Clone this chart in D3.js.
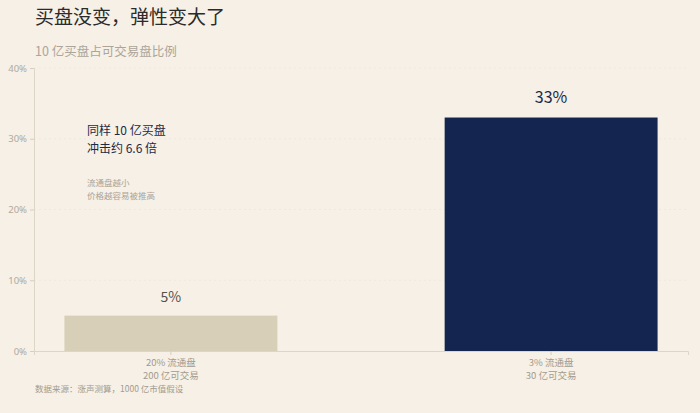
<!DOCTYPE html>
<html>
<head>
<meta charset="utf-8">
<script src="https://cdn.jsdelivr.net/npm/d3@7"></script>
<style>
  html, body { margin: 0; padding: 0; background: #f6f0e6; }
  svg { display: block; font-family: "Noto Sans CJK SC", "Noto Sans", sans-serif; }
</style>
</head>
<body>
<div id="chart"></div>
<script>
const categories = ['20% 流通盘|200 亿可交易', '3% 流通盘|30 亿可交易'];
const values = [5, 33];
const barColors = ['#d8cfb8', '#14264f'];
const yTicks = [0, 10, 20, 30, 40];

const width = 700, height = 413;
const margin = {top: 68, right: 12, bottom: 62, left: 34};

const svg = d3.select('#chart').append('svg')
    .attr('width', width)
    .attr('height', height);

svg.append('rect').attr('width', width).attr('height', height).attr('fill', '#f6f0e6');

const x = d3.scaleBand()
    .domain(categories)
    .range([margin.left, width - margin.right])
    .paddingInner(0.44)
    .paddingOuter(0.08);

const y = d3.scaleLinear()
    .domain([0, 40])
    .range([height - margin.bottom, margin.top]);

// faint gridlines
svg.append('g')
    .selectAll('line')
    .data(yTicks.filter(d => d > 0))
    .enter()
    .append('line')
    .attr('x1', margin.left)
    .attr('x2', width - margin.right)
    .attr('y1', d => y(d))
    .attr('y2', d => y(d))
    .attr('stroke', '#eee7da')
    .attr('stroke-dasharray', '2,3')
    .attr('stroke-width', 0.8);

// y axis
const yAxis = svg.append('g')
    .attr('transform', `translate(${margin.left},0)`)
    .call(d3.axisLeft(y).tickValues(yTicks).tickFormat(d => d + '%').tickSize(4).tickPadding(3));
yAxis.select('.domain').attr('stroke', '#ddd5c6');
yAxis.selectAll('.tick line').attr('stroke', '#d6cebf');
yAxis.selectAll('.tick text')
    .attr('fill', '#b0a99e')
    .style('font-size', '9.5px')
    .style('font-family', '"Noto Sans", sans-serif');

// bars
svg.append('g')
    .selectAll('rect')
    .data(values)
    .enter()
    .append('rect')
    .attr('x', (d, i) => x(categories[i]))
    .attr('width', x.bandwidth())
    .attr('y', d => y(d))
    .attr('height', d => y(0) - y(d))
    .attr('fill', (d, i) => barColors[i]);

// x axis
const xAxis = svg.append('g')
    .attr('transform', `translate(0,${y(0)})`)
    .call(d3.axisBottom(x).tickSize(4).tickFormat(''));
xAxis.select('.domain').attr('stroke', '#ddd5c6');
xAxis.selectAll('.tick line').attr('stroke', '#d6cebf');

// category labels, two lines
categories.forEach(c => {
  const cx = x(c) + x.bandwidth() / 2;
  c.split('|').forEach((p, j) => {
    svg.append('text')
        .attr('x', cx)
        .attr('y', y(0) + 14.5 + j * 13)
        .attr('text-anchor', 'middle')
        .attr('fill', '#a29b90')
        .style('font-size', '9.5px')
        .text(p);
  });
});

// value labels
svg.append('g')
    .selectAll('text')
    .data(values)
    .enter()
    .append('text')
    .attr('x', (d, i) => x(categories[i]) + x.bandwidth() / 2)
    .attr('y', (d, i) => y(d) - (i === 1 ? 15 : 14))
    .attr('text-anchor', 'middle')
    .attr('fill', (d, i) => i === 1 ? '#1d2a48' : '#55524c')
    .style('font-size', (d, i) => i === 1 ? '16px' : '14px')
    .text(d => d + '%');

// title & subtitle
svg.append('text')
    .attr('x', 35).attr('y', 24)
    .attr('fill', '#2b2b2b')
    .style('font-size', '19px')
    .text('买盘没变，弹性变大了');

svg.append('text')
    .attr('x', 35).attr('y', 56)
    .attr('fill', '#aca59a')
    .style('font-size', '12.5px')
    .text('10 亿买盘占可交易盘比例');

// annotation
const note = svg.append('g').attr('fill', '#1d2a48').style('font-size', '12px');
note.append('text').attr('x', 87).attr('y', 135).text('同样 10 亿买盘');
note.append('text').attr('x', 87).attr('y', 152.5).text('冲击约 6.6 倍');

const note2 = svg.append('g').attr('fill', '#aaa398').style('font-size', '8.5px');
note2.append('text').attr('x', 87).attr('y', 186).text('流通盘越小');
note2.append('text').attr('x', 87).attr('y', 198.5).text('价格越容易被推高');

// source
svg.append('text')
    .attr('x', 35).attr('y', 391.5)
    .attr('fill', '#a29b90')
    .style('font-size', '8.5px')
    .text('数据来源：涨声测算，1000 亿市值假设');
</script>
</body>
</html>
